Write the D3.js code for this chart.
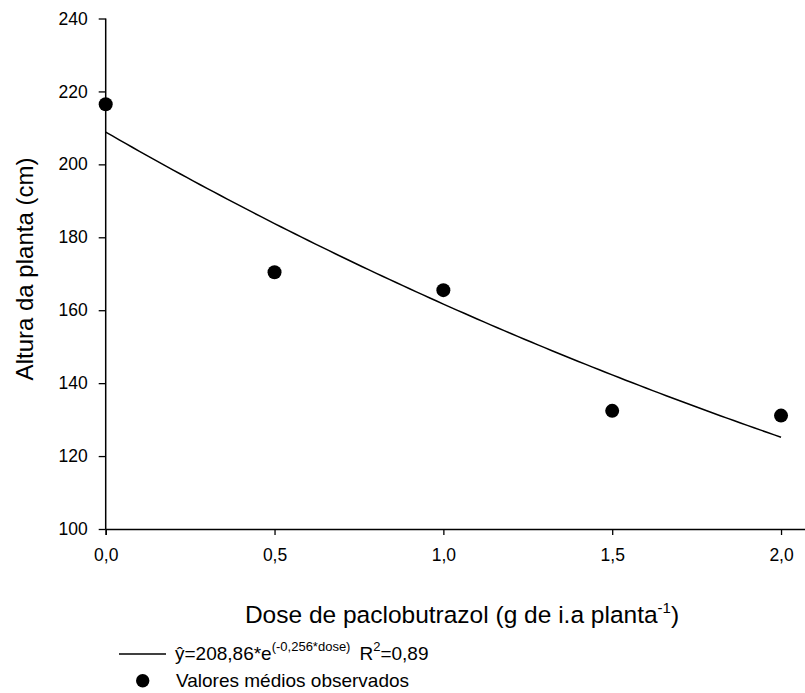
<!DOCTYPE html>
<html>
<head>
<meta charset="utf-8">
<script src="https://cdn.jsdelivr.net/npm/d3@7"></script>
<style>
  body { margin: 0; background: #fff; }
  svg { display: block; }
  text { font-family: "Liberation Sans", Arial, Helvetica, sans-serif; fill: #000; }
</style>
</head>
<body>
<svg id="chart" width="805" height="693"></svg>
<script>
// Observed mean plant height for each paclobutrazol dose
const doses = [0, 0.5, 1.0, 1.5, 2.0];
const alturaObservada = [216.5, 170.4, 165.5, 132.4, 131.1];

// Axis ticks
const xTicks = [0, 0.5, 1.0, 1.5, 2.0];
const yTicks = [100, 120, 140, 160, 180, 200, 220, 240];

// Fitted exponential model: y = a * e^(b * dose)
const ajusteA = 208.86;
const ajusteB = -0.256;
const ajusteR2 = 0.89;

const svg = d3.select("#chart");

const x = d3.scaleLinear().domain([0, 2.1]).range([105.7, 814.8]);
const y = d3.scaleLinear().domain([100, 240]).range([529, 18.5]);

// Portuguese number style: decimal comma, plain hyphen for negatives
const br = d3.formatLocale({ decimal: ",", thousands: ".", grouping: [3], currency: ["R$", ""], minus: "-" });
const fmt1 = br.format(".1f");
const fmt2 = br.format(".2f");
const fmt3 = br.format(".3f");

// X axis
const xAxis = d3.axisBottom(x).tickValues(xTicks).tickSize(6).tickPadding(14).tickFormat(fmt1);
const gx = svg.append("g").attr("transform", `translate(0,${y(100)})`).call(xAxis);
gx.select(".domain").attr("stroke-width", 1.5);
gx.selectAll(".tick line").attr("stroke-width", 1.3);
gx.selectAll(".tick text").attr("font-size", "17.5px").attr("font-family", null);

// Y axis
const yAxis = d3.axisLeft(y).tickValues(yTicks).tickSize(7).tickPadding(11).tickFormat(d3.format("d"));
const gy = svg.append("g").attr("transform", `translate(${x(0)},0)`).call(yAxis);
gy.select(".domain").attr("stroke-width", 1.5).attr("d", `M0,${y(240)}V${y(100)}`);
gy.selectAll(".tick line").attr("stroke-width", 1.3);
gy.selectAll(".tick text").attr("font-size", "17.5px").attr("font-family", null);

// Axis titles
const xt = svg.append("text").attr("x", 462).attr("y", 622.5)
  .attr("text-anchor", "middle").attr("font-size", "24.5px");
xt.append("tspan").text("Dose de paclobutrazol (g de i.a planta");
xt.append("tspan").attr("font-size", "15px").attr("dy", -10).text("-1");
xt.append("tspan").attr("dy", 10).text(")");

svg.append("text")
  .attr("transform", `translate(33,${269}) rotate(-90)`)
  .attr("text-anchor", "middle").attr("font-size", "24px")
  .text("Altura da planta (cm)");

// Fitted curve
const curvaDoses = d3.range(0, 2.0001, 0.02);
const linha = d3.line()
  .x(d => x(d))
  .y(d => y(ajusteA * Math.exp(ajusteB * d)));
svg.append("path").datum(curvaDoses)
  .attr("d", linha).attr("fill", "none").attr("stroke", "#000").attr("stroke-width", 1.5);

// Observed means
svg.selectAll("circle.obs").data(doses).join("circle")
  .attr("class", "obs")
  .attr("cx", d => x(d))
  .attr("cy", (d, i) => y(alturaObservada[i]))
  .attr("r", 7)
  .attr("fill", "#000");

// Legend
const leg = svg.append("g");
leg.append("line").attr("x1", 119).attr("x2", 166).attr("y1", 654).attr("y2", 654)
  .attr("stroke", "#000").attr("stroke-width", 1.5);
const eq = leg.append("text").attr("x", 175).attr("y", 660).attr("font-size", "19px");
eq.append("tspan").text("\u0177=" + fmt2(ajusteA) + "*e");
eq.append("tspan").attr("font-size", "13px").attr("dy", -9)
  .text("(" + fmt3(ajusteB) + "*dose)");
eq.append("tspan").attr("dy", 9).attr("dx", 9).text("R");
eq.append("tspan").attr("font-size", "13px").attr("dy", -9).text("2");
eq.append("tspan").attr("dy", 9).text("=" + fmt2(ajusteR2));

leg.append("circle").attr("cx", 142.7).attr("cy", 680.7).attr("r", 6.7).attr("fill", "#000");
leg.append("text").attr("x", 176).attr("y", 686.5).attr("font-size", "19px")
  .text("Valores médios observados");
</script>
</body>
</html>
